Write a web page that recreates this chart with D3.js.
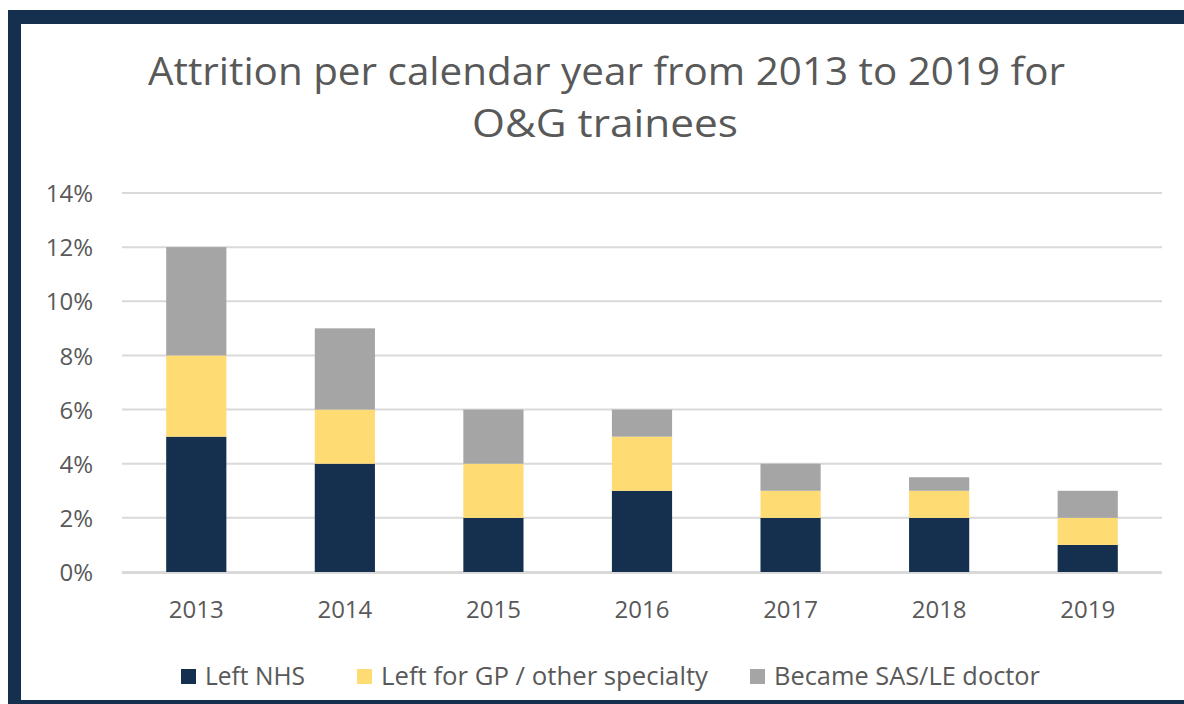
<!DOCTYPE html>
<html>
<head>
<meta charset="utf-8">
<script src="https://cdn.jsdelivr.net/npm/d3@7"></script>
<style>
  body { margin: 0; background: #fff; }
  svg text { font-family: "Open Sans", "Noto Sans", sans-serif; fill: #595959; }
</style>
</head>
<body>
<svg id="chart"></svg>
<script>
// data
let years = ["2013", "2014", "2015", "2016", "2017", "2018", "2019"];
let leftNHS = [5, 4, 2, 3, 2, 2, 1];
let leftGP = [3, 2, 2, 2, 1, 1, 1];
let becameSAS = [4, 3, 2, 1, 1, 0.5, 1];
let seriesNames = ["Left NHS", "Left for GP / other specialty", "Became SAS/LE doctor"];
let seriesColors = ["#15304f", "#ffdb74", "#a5a5a5"];
let yTicks = [0, 2, 4, 6, 8, 10, 12, 14];

let W = 1184, H = 704;
let svg = d3.select("#chart").attr("width", W).attr("height", H);

// navy frame (top, left, bottom)
let navy = "#15304f";
svg.append("rect").attr("x", 8).attr("y", 10).attr("width", W - 8).attr("height", H - 10).attr("fill", navy);
svg.append("rect").attr("x", 21).attr("y", 24).attr("width", W - 21).attr("height", 676).attr("fill", "#fff");

// title (stretched a bit like the original)
svg.append("text").attr("x", 148).attr("y", 85)
  .attr("font-size", "38px").attr("textLength", 917).attr("lengthAdjust", "spacingAndGlyphs")
  .text("Attrition per calendar year from 2013 to 2019 for");
svg.append("text").attr("x", 472).attr("y", 137)
  .attr("font-size", "38px").attr("textLength", 266).attr("lengthAdjust", "spacingAndGlyphs")
  .text("O&G trainees");

let plotLeft = 122, plotRight = 1162, plotTop = 193, plotBottom = 572;

let x = d3.scaleBand().domain(years).range([plotLeft, plotRight]).paddingInner(0.595).paddingOuter(0.2975);
let y = d3.scaleLinear().domain([0, 14]).range([plotBottom, plotTop]);

// gridlines
svg.append("g").selectAll("line").data(yTicks).enter().append("line")
  .attr("x1", plotLeft).attr("x2", plotRight)
  .attr("y1", function(d) { return y(d); }).attr("y2", function(d) { return y(d); })
  .attr("stroke", "#d9d9d9").attr("stroke-width", 2);

// y tick labels
let yAxis = d3.axisLeft(y).tickValues(yTicks).tickFormat(function(d) { return d + "%"; }).tickSize(0).tickPadding(0);
let gy = svg.append("g").attr("transform", "translate(93,0)").call(yAxis);
gy.select(".domain").remove();
gy.selectAll("text").attr("font-size", "24px").attr("fill", "#595959").attr("dy", "0.36em").style("font-family", "'Open Sans', sans-serif");

// stacked bars
let table = years.map(function(yr, i) {
  return { year: yr, a: leftNHS[i], b: leftGP[i], c: becameSAS[i] };
});
let stack = d3.stack().keys(["a", "b", "c"]);
let layers = stack(table);

svg.append("g").selectAll("g").data(layers).enter().append("g")
  .attr("fill", function(d, i) { return seriesColors[i]; })
  .selectAll("rect").data(function(d) { return d; }).enter().append("rect")
  .attr("x", function(d) { return x(d.data.year); })
  .attr("width", x.bandwidth())
  .attr("y", function(d) { return y(d[1]); })
  .attr("height", function(d) { return y(d[0]) - y(d[1]); });

// baseline on top of bars
svg.append("line").attr("x1", plotLeft).attr("x2", plotRight).attr("y1", plotBottom + 1).attr("y2", plotBottom + 1)
  .attr("stroke", "#d9d9d9").attr("stroke-width", 2);

// x axis labels
let xAxis = d3.axisBottom(x).tickSize(0).tickPadding(0);
let gx = svg.append("g").attr("transform", "translate(0," + (plotBottom + 46) + ")").call(xAxis);
gx.select(".domain").remove();
gx.selectAll("text").attr("font-size", "24px").attr("fill", "#595959").attr("dy", "0").style("font-family", "'Open Sans', sans-serif");

// legend
let legendX = [181, 357, 750];
let legendLen = [100, 327, 266];
let lg = svg.append("g").selectAll("g").data(seriesNames).enter().append("g")
  .attr("transform", function(d, i) { return "translate(" + legendX[i] + ",685)"; });
lg.append("rect").attr("x", 0).attr("y", -16).attr("width", 15).attr("height", 15)
  .attr("fill", function(d, i) { return seriesColors[i]; });
lg.append("text").attr("x", 24).attr("y", 0).attr("font-size", "26px")
  .attr("textLength", function(d, i) { return legendLen[i]; }).attr("lengthAdjust", "spacingAndGlyphs")
  .text(function(d) { return d; });
</script>
</body>
</html>
